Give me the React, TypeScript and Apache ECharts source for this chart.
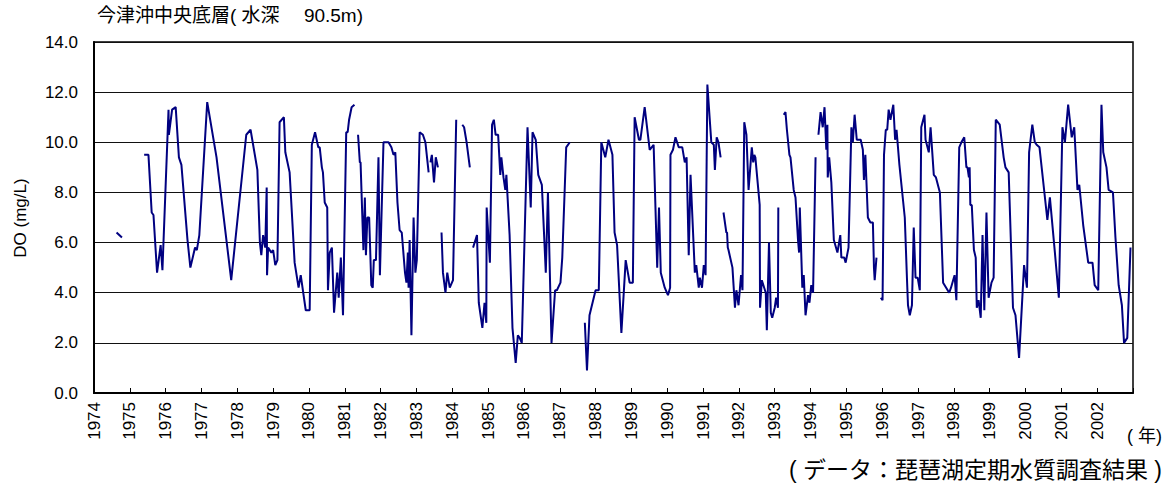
import React, { useEffect, useRef } from "react";
import * as echarts from "echarts";

// Dissolved oxygen (mg/L) at the bottom layer of the central Imazu offshore station.
// Each array is one continuous run of surveys: [decimal year, DO].
const run1974: [number, number][] = [
  [1974.63, 6.4], [1974.78, 6.2],
];

const run1975to1981: [number, number][] = [
  [1975.40, 9.5], [1975.52, 9.5], [1975.61, 7.2], [1975.66, 7.1], [1975.76, 4.8],
  [1975.86, 5.9], [1975.91, 4.9], [1976.08, 11.3], [1976.09, 10.3], [1976.18, 11.3],
  [1976.28, 11.4], [1976.37, 9.4], [1976.44, 9.1], [1976.61, 6.1], [1976.69, 5.0],
  [1976.82, 5.8], [1976.87, 5.7], [1976.94, 6.3], [1977.16, 11.6], [1977.42, 9.4],
  [1977.83, 4.5], [1978.25, 10.3], [1978.37, 10.5], [1978.56, 8.9], [1978.63, 6.0],
  [1978.67, 5.5], [1978.72, 6.3], [1978.78, 5.8], [1978.82, 8.2], [1978.83, 4.7],
  [1978.86, 5.8], [1978.95, 5.6], [1979.00, 5.7], [1979.06, 5.1], [1979.12, 5.3],
  [1979.18, 10.8], [1979.30, 11.0], [1979.34, 9.6], [1979.46, 8.8], [1979.60, 5.2],
  [1979.71, 4.2], [1979.77, 4.7], [1979.91, 3.3], [1980.02, 3.3], [1980.08, 9.9],
  [1980.17, 10.4], [1980.26, 9.8], [1980.30, 9.8], [1980.36, 9.0], [1980.39, 8.8],
  [1980.44, 7.6], [1980.51, 7.4], [1980.53, 4.1], [1980.58, 5.6], [1980.64, 5.8],
  [1980.70, 3.2], [1980.79, 4.8], [1980.83, 3.8], [1980.89, 5.4], [1980.95, 3.1],
  [1981.04, 10.4], [1981.08, 10.4], [1981.12, 10.9], [1981.19, 11.4], [1981.27, 11.5],
];

const run1981to1983: [number, number][] = [
  [1981.37, 10.3], [1981.42, 9.2], [1981.44, 9.2], [1981.52, 5.7], [1981.56, 7.8],
  [1981.59, 5.5], [1981.63, 7.0], [1981.68, 7.0], [1981.74, 4.3], [1981.78, 4.2],
  [1981.81, 5.3], [1981.87, 5.3], [1981.94, 9.4], [1981.98, 4.7], [1982.08, 10.0],
  [1982.22, 10.0], [1982.30, 9.8], [1982.36, 9.5], [1982.41, 9.6], [1982.47, 7.6],
  [1982.53, 6.5], [1982.59, 6.4], [1982.68, 4.8], [1982.72, 4.4], [1982.76, 5.6],
  [1982.78, 4.2], [1982.81, 6.1], [1982.86, 2.3], [1982.92, 7.0], [1982.97, 4.8],
  [1983.01, 5.3], [1983.09, 10.4], [1983.18, 10.3], [1983.25, 10.0], [1983.34, 8.8],
];

const run1983a: [number, number][] = [
  [1983.39, 9.2], [1983.43, 9.5], [1983.49, 8.4], [1983.54, 9.4], [1983.60, 9.0],
];

const run1983b: [number, number][] = [
  [1983.70, 6.4], [1983.74, 4.8], [1983.81, 4.0], [1983.86, 4.8], [1983.93, 4.2],
  [1984.02, 4.5], [1984.11, 10.9],
];

const run1984: [number, number][] = [
  [1984.28, 10.7], [1984.33, 10.6], [1984.40, 10.0], [1984.49, 9.0],
];

const run1984to1987: [number, number][] = [
  [1984.58, 5.8], [1984.69, 6.3], [1984.74, 3.6], [1984.84, 2.6], [1984.90, 3.6],
  [1984.95, 2.8], [1984.96, 7.4], [1985.05, 5.2], [1985.11, 10.7], [1985.16, 10.9],
  [1985.21, 10.3], [1985.28, 10.3], [1985.34, 8.7], [1985.37, 9.4], [1985.43, 8.6],
  [1985.48, 8.1], [1985.51, 8.7], [1985.60, 6.3], [1985.68, 2.6], [1985.77, 1.2],
  [1985.83, 2.3], [1985.88, 2.2], [1985.94, 2.0], [1986.10, 10.6], [1986.19, 7.4],
  [1986.24, 10.4], [1986.33, 10.1], [1986.40, 8.7], [1986.50, 8.3], [1986.61, 4.8],
  [1986.67, 8.0], [1986.77, 2.0], [1986.87, 4.1], [1986.92, 4.1], [1987.02, 4.4],
  [1987.07, 5.4], [1987.18, 9.8], [1987.28, 10.0],
];

const run1987to1991: [number, number][] = [
  [1987.70, 2.8], [1987.76, 0.9], [1987.83, 3.1], [1988.00, 4.1], [1988.09, 4.1],
  [1988.16, 10.0], [1988.27, 9.4], [1988.36, 10.1], [1988.47, 9.5], [1988.53, 6.4],
  [1988.60, 5.9], [1988.72, 2.4], [1988.84, 5.3], [1988.95, 4.4], [1989.04, 4.4],
  [1989.09, 11.0], [1989.21, 10.1], [1989.25, 10.1], [1989.37, 11.4], [1989.51, 9.7],
  [1989.62, 9.9], [1989.72, 5.0], [1989.77, 7.4], [1989.82, 4.8], [1989.93, 4.2],
  [1990.02, 3.9], [1990.08, 4.2], [1990.09, 9.5], [1990.16, 9.7], [1990.23, 10.2],
  [1990.32, 9.8], [1990.42, 9.8], [1990.49, 9.2], [1990.54, 9.4], [1990.60, 5.5],
  [1990.65, 8.7], [1990.77, 4.8], [1990.81, 5.1], [1990.88, 4.2], [1990.91, 4.6],
  [1990.97, 4.2], [1991.02, 5.1], [1991.07, 4.7], [1991.12, 12.3], [1991.23, 10.0],
  [1991.30, 9.9], [1991.33, 8.9], [1991.38, 10.2], [1991.43, 10.0], [1991.49, 9.4],
];

const run1991to1993: [number, number][] = [
  [1991.57, 7.2], [1991.65, 6.4], [1991.67, 6.4], [1991.69, 5.8], [1991.71, 5.7],
  [1991.82, 5.0], [1991.89, 3.4], [1991.93, 4.1], [1991.99, 3.5], [1992.06, 4.7],
  [1992.10, 4.1], [1992.15, 10.8], [1992.21, 10.3], [1992.27, 8.1], [1992.36, 9.8],
  [1992.40, 9.2], [1992.43, 9.5], [1992.46, 9.4], [1992.58, 7.5], [1992.59, 3.4],
  [1992.64, 4.5], [1992.75, 4.0], [1992.78, 2.5], [1992.84, 6.0], [1992.89, 3.2],
  [1992.93, 3.0], [1993.00, 3.4], [1993.04, 3.8], [1993.09, 3.4], [1993.10, 7.4],
];

const run1993to1994: [number, number][] = [
  [1993.25, 11.1], [1993.30, 11.2], [1993.34, 10.5], [1993.41, 9.5], [1993.44, 9.4],
  [1993.53, 8.1], [1993.58, 7.8], [1993.65, 6.1], [1993.68, 5.6], [1993.70, 7.4],
  [1993.77, 4.2], [1993.81, 4.7], [1993.86, 3.1], [1993.93, 3.9], [1993.97, 3.6],
  [1994.02, 4.3], [1994.07, 4.0], [1994.14, 9.4],
];

const run1994to1995: [number, number][] = [
  [1994.22, 10.3], [1994.28, 11.2], [1994.34, 10.6], [1994.39, 11.4], [1994.44, 9.7],
  [1994.47, 10.7], [1994.48, 8.6], [1994.52, 9.4], [1994.58, 8.4], [1994.65, 6.1],
  [1994.75, 5.6], [1994.83, 6.3], [1994.86, 5.4], [1994.94, 5.4], [1994.98, 5.2],
  [1995.06, 5.8], [1995.14, 10.6], [1995.18, 10.0], [1995.23, 11.1], [1995.29, 10.1],
  [1995.40, 10.1], [1995.46, 9.7], [1995.49, 8.5], [1995.53, 9.5], [1995.60, 7.0],
  [1995.67, 6.8], [1995.74, 6.8], [1995.77, 5.0], [1995.79, 4.5], [1995.84, 5.4],
];

const run1996to2002: [number, number][] = [
  [1995.96, 3.8], [1996.01, 3.7], [1996.05, 9.5], [1996.10, 10.5], [1996.14, 10.5],
  [1996.18, 11.3], [1996.23, 10.9], [1996.31, 11.5], [1996.36, 10.1], [1996.40, 10.5],
  [1996.48, 9.1], [1996.63, 7.0], [1996.69, 4.6], [1996.72, 3.5], [1996.77, 3.1],
  [1996.83, 3.5], [1996.88, 6.6], [1996.93, 4.6], [1996.99, 4.6], [1997.05, 4.1],
  [1997.09, 10.6], [1997.18, 11.1], [1997.21, 10.1], [1997.30, 9.6], [1997.35, 10.6],
  [1997.44, 8.7], [1997.50, 8.6], [1997.61, 8.0], [1997.70, 4.4], [1997.87, 4.0],
  [1997.92, 4.2], [1998.02, 4.7], [1998.07, 3.7], [1998.15, 9.8], [1998.21, 10.0],
  [1998.29, 10.2], [1998.35, 9.0], [1998.38, 9.0], [1998.42, 8.6], [1998.44, 9.0],
  [1998.46, 7.5], [1998.50, 7.5], [1998.56, 5.7], [1998.61, 5.4], [1998.64, 3.4],
  [1998.69, 3.7], [1998.75, 3.0], [1998.80, 6.3], [1998.85, 3.3], [1998.91, 7.2],
  [1998.97, 3.8], [1999.05, 4.4], [1999.11, 4.6], [1999.17, 10.9], [1999.28, 10.7],
  [1999.39, 9.4], [1999.44, 9.0], [1999.53, 8.8], [1999.65, 3.4], [1999.72, 3.1],
  [1999.82, 1.4], [1999.96, 5.1], [2000.04, 4.2], [2000.10, 9.6], [2000.19, 10.7],
  [2000.26, 10.0], [2000.31, 9.9], [2000.39, 9.8], [2000.61, 6.9], [2000.68, 7.8],
  [2000.82, 5.6], [2000.93, 3.8], [2001.03, 10.6], [2001.10, 10.0], [2001.19, 11.5],
  [2001.29, 10.2], [2001.36, 10.6], [2001.45, 8.1], [2001.50, 8.3], [2001.61, 6.7],
  [2001.75, 5.2], [2001.87, 5.2], [2001.93, 4.3], [2002.03, 4.1], [2002.12, 11.5],
  [2002.17, 9.6], [2002.26, 9.0], [2002.32, 8.1], [2002.44, 8.0], [2002.51, 6.2],
  [2002.60, 4.3], [2002.69, 3.5], [2002.75, 2.0], [2002.84, 2.2], [2002.93, 5.8],
];

const surveyRuns = [
  run1974, run1975to1981, run1981to1983, run1983a, run1983b, run1984,
  run1984to1987, run1987to1991, run1991to1993, run1993to1994, run1994to1995,
  run1996to2002,
];

const firstYear = 1974;
const lastYear = 2003;
const yTicks = { min: 0, max: 14, step: 2 };

const titleText = "今津沖中央底層( 水深　 90.5m)";
const yAxisTitle = "DO (mg/L)";
const xUnitText = "( 年)";
const sourceText = "( データ：琵琶湖定期水質調査結果 )";

const FONT = "'Liberation Sans', Arial, 'Noto Sans CJK JP', sans-serif";
const LINE_COLOR = "#000080";

export default function App() {
  const ref = useRef<HTMLDivElement>(null);

  useEffect(() => {
    if (!ref.current) return;
    const chart = echarts.init(ref.current, null, { renderer: "svg" });

    const option: any = {
      animation: false,
      backgroundColor: "#ffffff",
      textStyle: { fontFamily: FONT },
      grid: {
        left: 94,
        right: 36,
        top: 42,
        bottom: 95,
        show: true,
        borderColor: "#000",
        borderWidth: 1.5,
      },
      xAxis: {
        type: "value",
        min: firstYear,
        max: lastYear,
        interval: 1,
        axisLine: { show: true, lineStyle: { color: "#000", width: 2 } },
        axisTick: { show: true, inside: true, length: 5, lineStyle: { color: "#000", width: 1 } },
        axisLabel: {
          rotate: 90,
          fontSize: 17,
          color: "#000",
          fontFamily: FONT,
          margin: 9,
          formatter: (v: number) => (v >= lastYear ? "" : String(v)),
        },
        splitLine: { show: false },
      },
      yAxis: {
        type: "value",
        min: yTicks.min,
        max: yTicks.max,
        interval: yTicks.step,
        axisLine: { show: true, lineStyle: { color: "#000", width: 2 } },
        axisTick: { show: false },
        axisLabel: {
          fontSize: 17,
          color: "#000",
          fontFamily: FONT,
          margin: 16,
          formatter: (v: number) => v.toFixed(1),
        },
        splitLine: { show: true, lineStyle: { color: "#111", width: 1 } },
      },
      series: surveyRuns.map((run) => ({
        type: "line",
        data: run,
        symbol: "none",
        showSymbol: false,
        silent: true,
        lineStyle: { color: LINE_COLOR, width: 2 },
      })),
      graphic: [
        {
          type: "text",
          left: 97,
          top: 6,
          style: { text: titleText, fontSize: 19, fill: "#000", fontFamily: FONT },
        },
        {
          type: "text",
          x: 20,
          y: 218,
          rotation: Math.PI / 2,
          style: {
            text: yAxisTitle,
            fontSize: 17,
            fill: "#000",
            fontFamily: FONT,
            align: "center",
            verticalAlign: "middle",
          },
        },
        {
          type: "text",
          x: 1162,
          y: 436,
          style: {
            text: xUnitText,
            fontSize: 18,
            fill: "#000",
            fontFamily: FONT,
            align: "right",
            verticalAlign: "middle",
          },
        },
        {
          type: "text",
          x: 1162,
          y: 470,
          style: {
            text: sourceText,
            fontSize: 23,
            fill: "#000",
            fontFamily: FONT,
            align: "right",
            verticalAlign: "middle",
          },
        },
      ],
    };

    chart.setOption(option);
    return () => chart.dispose();
  }, []);

  return (
    <div
      ref={ref}
      style={{ position: "fixed", left: 0, top: 0, width: 1169, height: 488, background: "#fff" }}
    />
  );
}
